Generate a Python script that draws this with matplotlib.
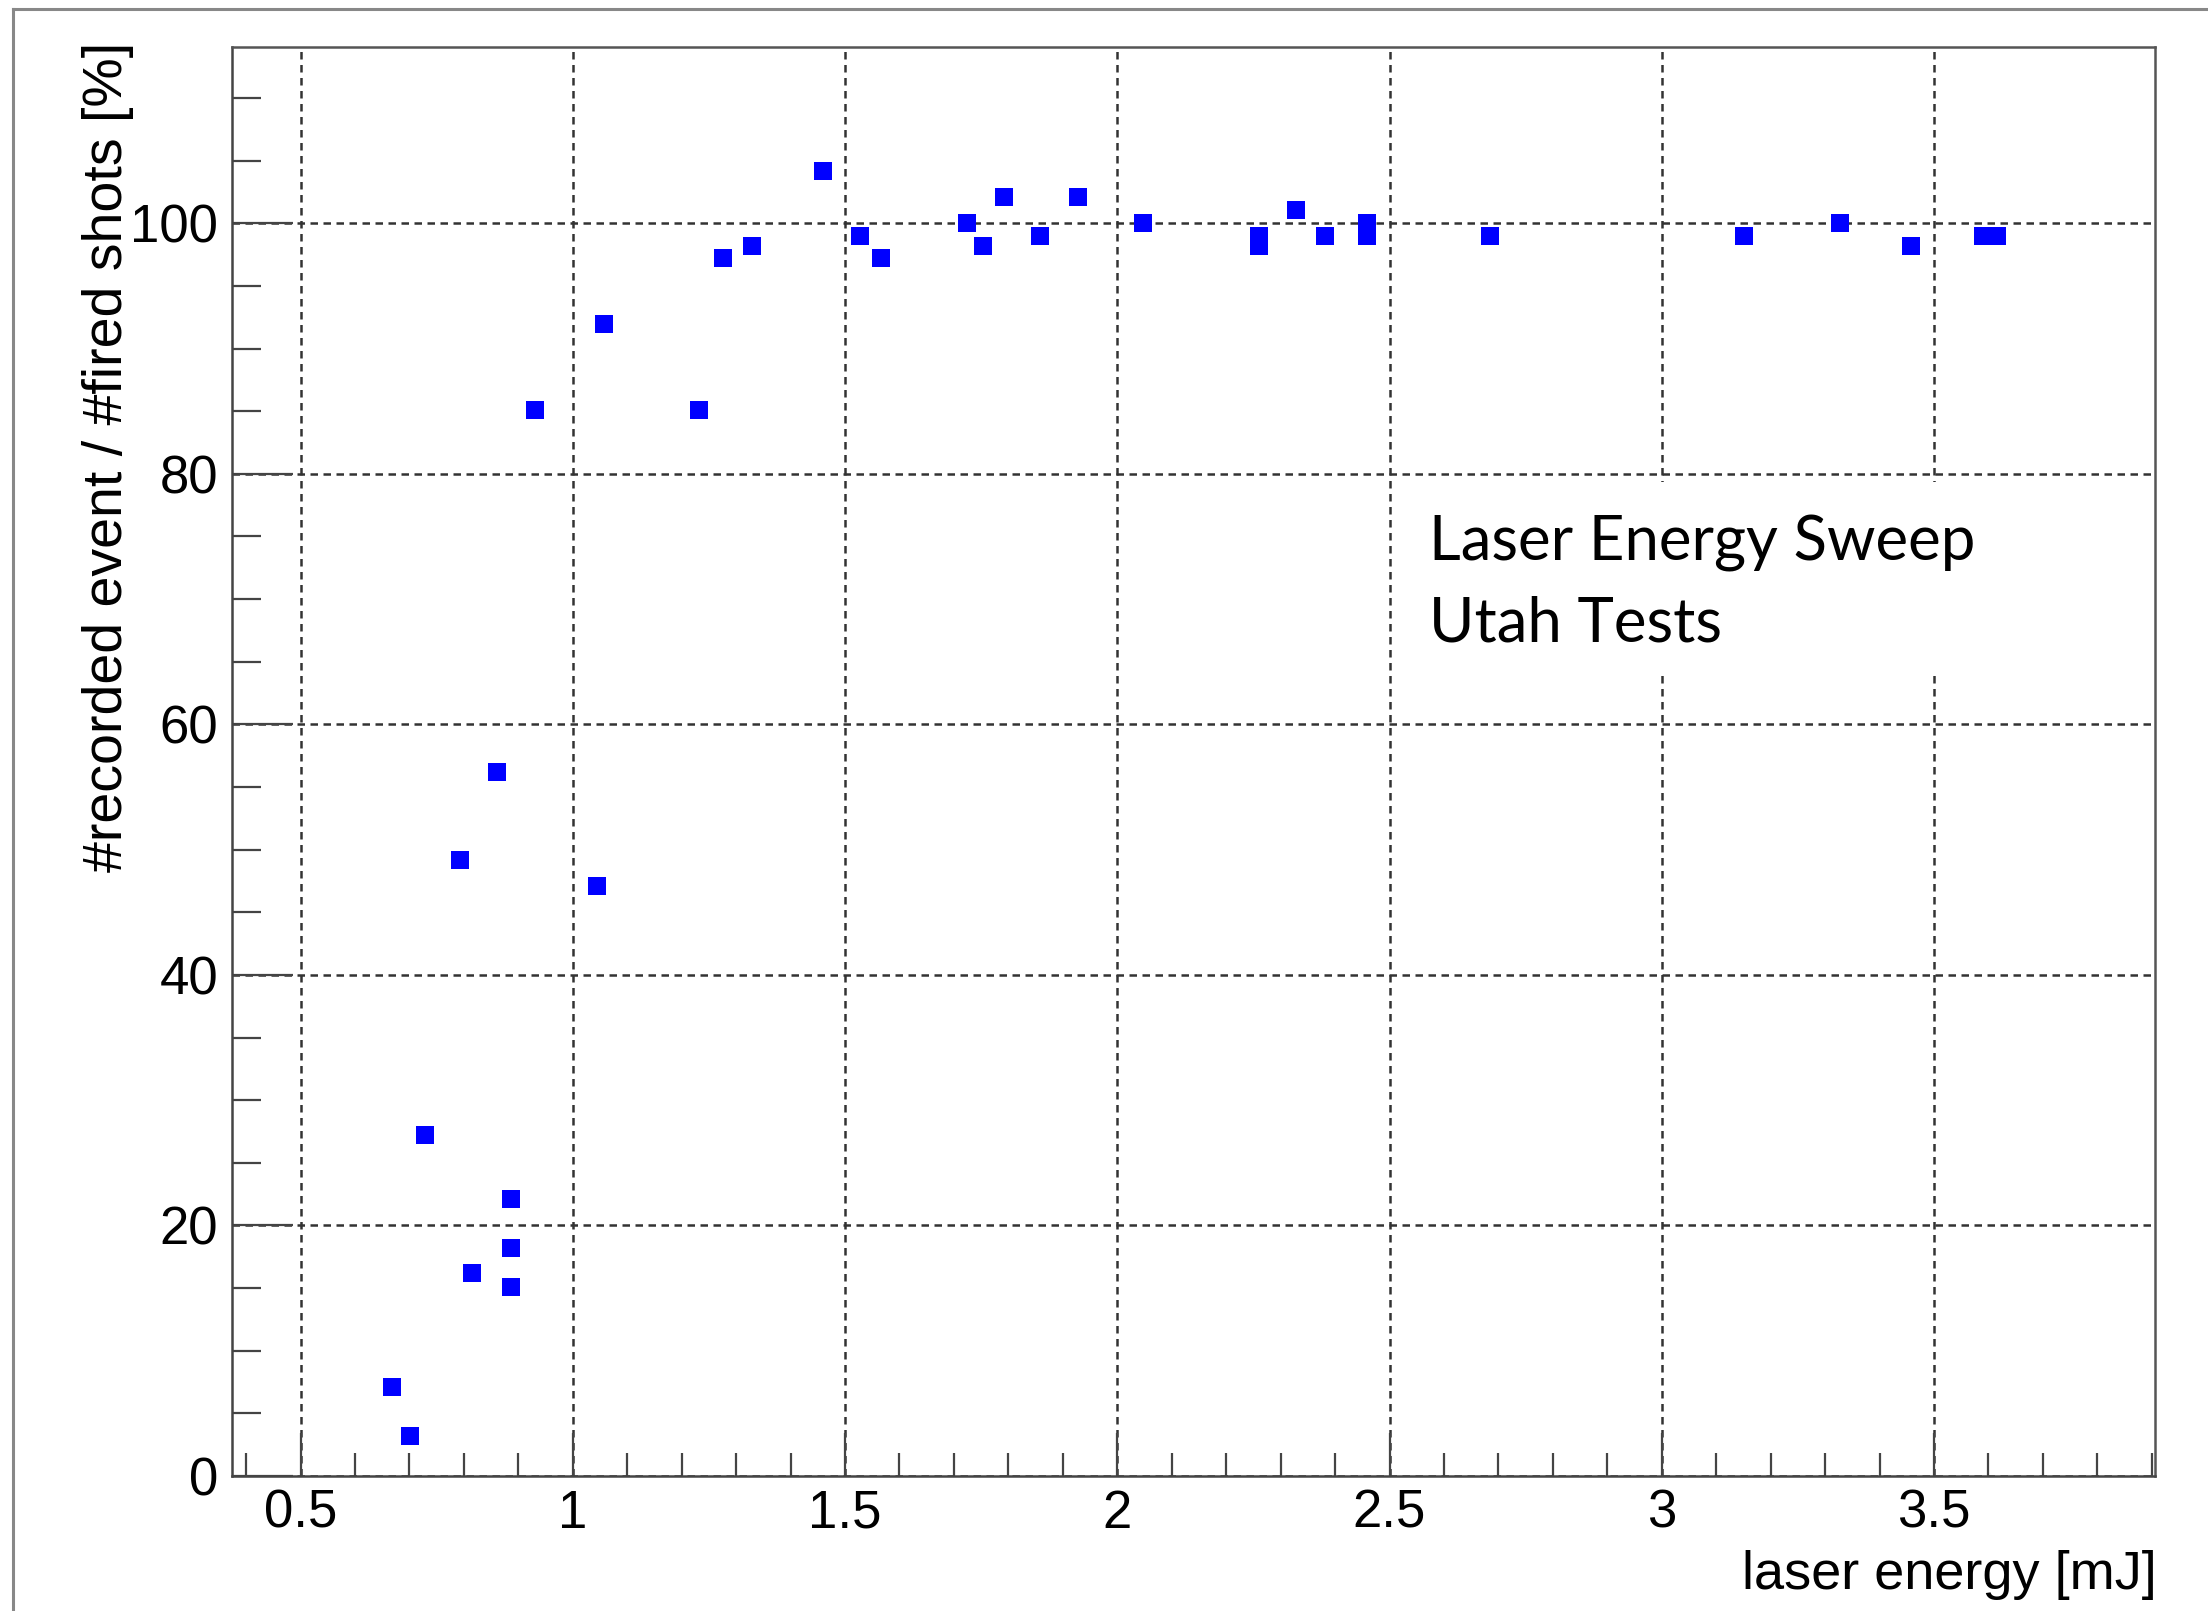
import numpy as np
import matplotlib.pyplot as plt
from matplotlib.ticker import MultipleLocator
from matplotlib.patches import Rectangle
from matplotlib.lines import Line2D

# laser energy [mJ] and recorded / fired ratio [%]
energy = [0.667, 0.701, 0.729, 0.793, 0.814, 0.860, 0.886, 0.886, 0.886,
          0.930, 1.044, 1.058, 1.232, 1.276, 1.330, 1.459, 1.528, 1.566,
          1.724, 1.754, 1.792, 1.858, 1.927, 2.047, 2.260, 2.260, 2.328,
          2.381, 2.458, 2.458, 2.684, 3.151, 3.327, 3.457, 3.591, 3.616]
efficiency = [7.1, 3.2, 27.2, 49.2, 16.2, 56.2, 22.1, 18.2, 15.1,
              85.1, 47.1, 92.0, 85.1, 97.2, 98.2, 104.2, 99.0, 97.2,
              100.0, 98.2, 102.1, 99.0, 102.1, 100.0, 99.0, 98.2, 101.1,
              99.0, 100.0, 99.0, 99.0, 99.0, 100.0, 98.2, 99.0, 99.0]

x_ticks = [0.5, 1, 1.5, 2, 2.5, 3, 3.5]
x_ticklabels = ['0.5', '1', '1.5', '2', '2.5', '3', '3.5']
y_ticks = [0, 20, 40, 60, 80, 100]

plt.rcParams['font.family'] = ['Liberation Sans', 'DejaVu Sans']

W, H = 2208, 1611
fig = plt.figure(figsize=(W / 100, H / 100), dpi=100)
ax = fig.add_axes([232 / W, 1 - 1476 / H, (2155 - 232) / W, (1476 - 46.7) / H])

ax.plot(energy, efficiency, linestyle='none', marker='s', markersize=13.5,
        color='#0000ff', markeredgewidth=0, zorder=3)

ax.set_xlim(0.374, 3.906)
ax.set_ylim(0, 114.1)

ax.set_xticks(x_ticks)
ax.set_xticklabels(x_ticklabels)
ax.set_yticks(y_ticks)
ax.xaxis.set_minor_locator(MultipleLocator(0.1))
ax.yaxis.set_minor_locator(MultipleLocator(5))

ax.tick_params(axis='both', which='both', direction='in', colors='#444444',
               labelcolor='black', labelsize=38, width=1.6)
ax.tick_params(axis='x', which='major', length=31, pad=9)
ax.tick_params(axis='x', which='minor', length=16.5)
ax.tick_params(axis='y', which='major', length=44, pad=10)
ax.tick_params(axis='y', which='minor', length=21)

for s in ['top', 'right']:
    ax.spines[s].set_color('#555555')
    ax.spines[s].set_linewidth(1.8)
for s in ['left', 'bottom']:
    ax.spines[s].set_color('#444444')
    ax.spines[s].set_linewidth(1.8)

ax.set_axisbelow(True)
ax.grid(True, which='major', color='#333333', linewidth=1.8,
        linestyle=(0, (3, 2.2)))

# white box behind the annotation
ax.add_patch(Rectangle((0.6115, 0.5604), 0.3075, 0.135, transform=ax.transAxes,
                       facecolor='white', edgecolor='none', zorder=1.5))
fig.text(1429 / W, 1 - 560 / H, 'Laser Energy Sweep', family='Lato',
         fontsize=44.5, va='baseline', ha='left', color='black')
fig.text(1429 / W, 1 - 642 / H, 'Utah Tests', family='Lato',
         fontsize=44.5, va='baseline', ha='left', color='black')

fig.text(2157 / W, 1 - 1589 / H, 'laser energy [mJ]', fontsize=39,
         ha='right', va='baseline')
fig.text(108 / W, 1 - 42 / H, '#recorded event / #fired shots [%]', fontsize=40,
         rotation=90, ha='center', va='top')

# outer canvas frame (top and left edges visible)
fig.add_artist(Line2D([13 / W, 13 / W], [0, 1 - 9 / H], transform=fig.transFigure,
                      color='#888888', linewidth=2.2))
fig.add_artist(Line2D([13 / W, 1], [1 - 9 / H, 1 - 9 / H], transform=fig.transFigure,
                      color='#888888', linewidth=2.2))

fig.savefig('out.png', dpi=100)
